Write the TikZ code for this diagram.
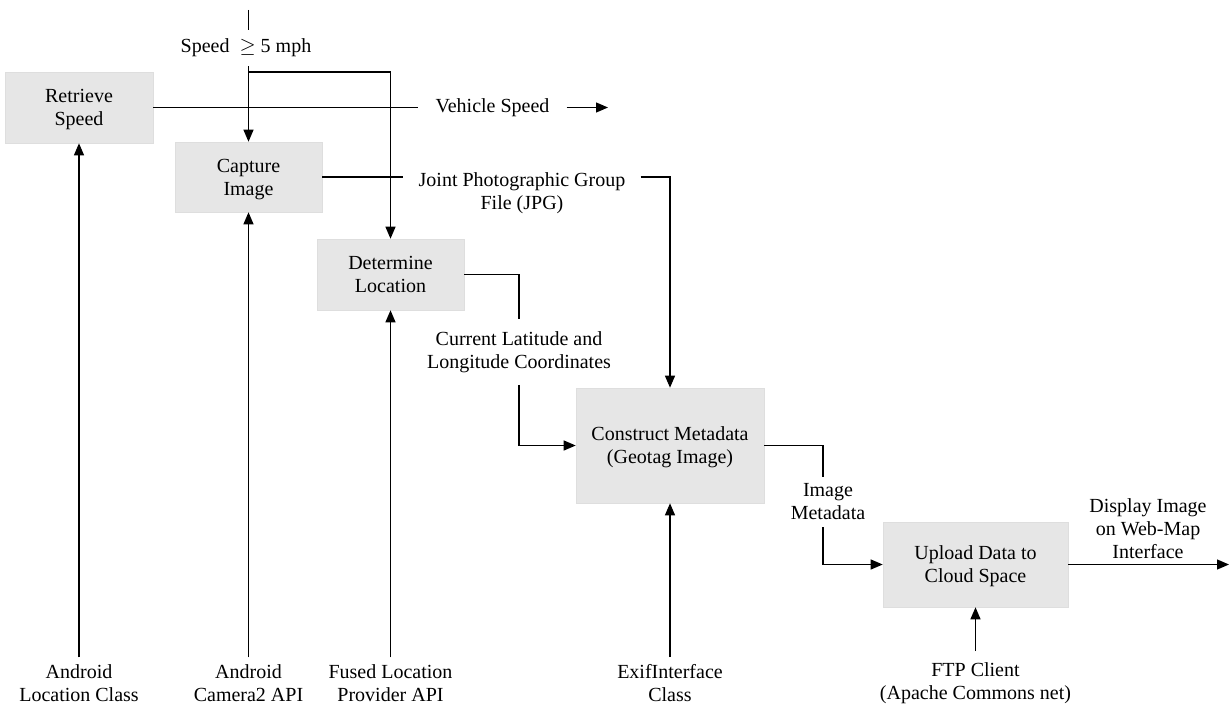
\documentclass[tikz,border=0pt]{standalone}
\usepackage{fontspec}
\setmainfont{Liberation Serif}
\usetikzlibrary{arrows.meta}
\begin{document}
\begin{tikzpicture}[x=1pt,y=-1pt,
  font=\fontsize{20}{23}\selectfont,
  every node/.style={align=center, inner sep=0pt},
  procbox/.style={fill={rgb,255:red,230;green,230;blue,230},
    draw={rgb,255:red,222;green,222;blue,222}, line width=0.6pt,
    text depth=0pt},
  lbl/.style={inner xsep=15pt, inner ysep=7pt},
  wire/.style={line width=1.2pt},
  arr/.style={wire, -{Triangle[length=12pt,width=10pt]}}]
\useasboundingbox (0,0) rectangle (1229,709);

% process boxes
\node[procbox, minimum width=148pt, minimum height=71pt] (ret) at (79,107.5) {Retrieve\\Speed};
\node[procbox, minimum width=147pt, minimum height=70pt] (cap) at (248.5,177) {Capture\\Image};
\node[procbox, minimum width=147pt, minimum height=71pt] (det) at (390.5,274.5) {Determine\\Location};
\node[procbox, minimum width=188pt, minimum height=115pt] (con) at (670,445.5) {Construct Metadata\\(Geotag Image)};
\node[procbox, minimum width=185pt, minimum height=85pt] (upl) at (975.5,564.5) {Upload Data to\\Cloud Space};

% trigger from above
\coordinate (trig) at (248.5,10);
\node[lbl, inner ysep=9pt] (spd) at (246,48) {Speed \ $\geq$ 5 mph};
\coordinate (split) at (248.5,72);
\draw[wire] (trig) -- (spd.north -| trig);
\draw[arr] (spd.south -| trig) -- (cap.north);
\draw[arr] (split) -| (det.north);

% outputs between the steps
\node[lbl, inner xsep=17pt] (vs) at (492.5,107.5) {Vehicle Speed};
\coordinate (vsend) at (608,107.5);
\draw[wire] (ret.east) -- (vs.west);
\draw[arr] (vs.east) -- (vsend);

\node[lbl, anchor=north] (jpg) at (522,165) {Joint Photographic Group\\File (JPG)};
\draw[wire] (cap.east) -- (cap.east -| jpg.west);
\draw[arr] (jpg.east |- cap.east) -| (con.north);

\node[lbl, inner ysep=12pt] (lat) at (519,352) {Current Latitude and\\Longitude Coordinates};
\draw[wire] (det.east) -| (lat.north);
\draw[arr] (lat.south) |- (con.west);

\node[lbl, inner ysep=7pt] (imd) at (828,502) {Image\\Metadata};
\draw[wire] (con.east) -| ([xshift=-5pt]imd.north);
\draw[arr] ([xshift=-5pt]imd.south) |- (upl.west);

\node[lbl, anchor=south, inner ysep=1pt] (web) at (1148,560) {Display Image\\on Web-Map\\Interface};
\coordinate (webend) at (1229,564.5);
\draw[arr] (upl.east) -- (webend);

% supporting components below
\node[lbl] (andloc) at (79,683) {Android\\Location Class};
\node[lbl] (andcam) at (248.5,683) {Android\\Camera2 API};
\node[lbl] (fused) at (390.5,683) {Fused Location\\Provider API};
\node[lbl] (exif) at (670,683) {ExifInterface\\Class};
\node[lbl, inner ysep=11pt] (ftp) at (975.5,683) {FTP Client\\(Apache Commons net)};
\draw[arr] (andloc.north) -- (ret.south);
\draw[arr] (andcam.north) -- (cap.south);
\draw[arr] (fused.north) -- (det.south);
\draw[arr] (exif.north) -- (con.south);
\draw[arr] (ftp.north) -- (upl.south);
\end{tikzpicture}
\end{document}
